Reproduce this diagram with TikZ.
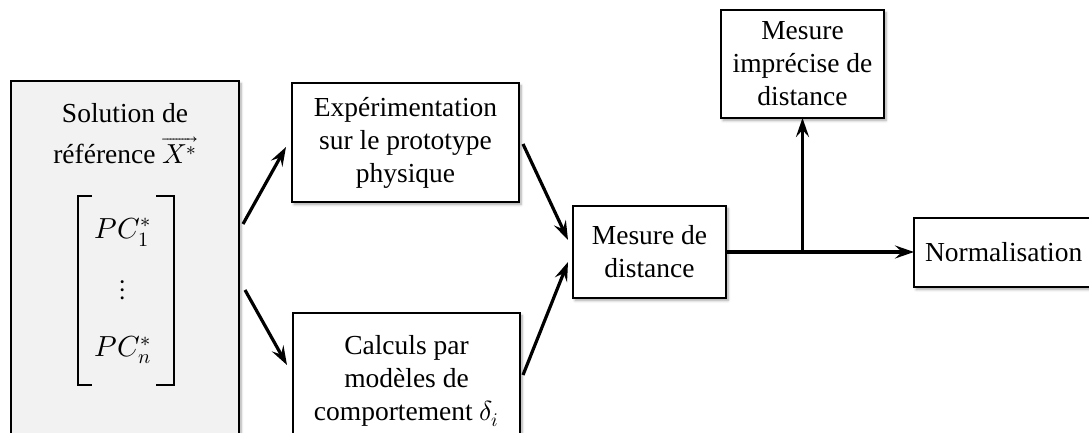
\documentclass[tikz,border=0pt]{standalone}
\usepackage{fontspec}
\usepackage{unicode-math}
\setmainfont{Liberation Serif}
\setmathfont{Latin Modern Math}
\usetikzlibrary{arrows.meta,calc,shadows.blur}

\tikzset{
  box/.style={draw=black, line width=1.6pt, fill=white, inner sep=0pt, outer sep=0pt,
    align=center, font=\fontsize{27.5}{33}\selectfont,
    blur shadow={shadow xshift=2pt, shadow yshift=-2.5pt, shadow blur radius=2.5pt,
      shadow blur steps=6, shadow opacity=35}},
  lbl/.style={inner sep=0pt, align=center, font=\fontsize{27.5}{33}\selectfont},
  arr/.style={line width=3.2pt, -{Stealth[length=19pt, width=13pt, inset=7pt]}},
  brk/.style={line width=2.5pt, line cap=butt},
}

\begin{document}
\begin{tikzpicture}[x=1pt, y=-1pt]
\useasboundingbox (0,0) rectangle (1089,433);

% reference solution panel
\node[box, fill=black!5, minimum width=228, minimum height=370] (ref) at (125,266) {};
\node[lbl, anchor=base] (sol1) at (125,123) {Solution de};
\node[lbl, anchor=base] (sol2) at (125,163) {référence $\overrightarrow{X^{*}}$};
\node[lbl, font=\fontsize{29}{33}\selectfont] (pc1) at (123,232) {$PC_1^{*}$};
\node[lbl, font=\fontsize{29}{33}\selectfont] (dots) at (123,290) {$\vdots$};
\node[lbl, font=\fontsize{29}{33}\selectfont] (pcn) at (123,350) {$PC_n^{*}$};
\draw[brk] (92,196) -- (78,196) -- (78,385) -- (92,385);
\draw[brk] (156,196) -- (174,196) -- (174,385) -- (156,385);

% process boxes
\node[box, minimum width=227, minimum height=119] (exp) at (405.5,142.5)
  {Expérimentation\\sur le prototype\\physique};
\node[box, minimum width=227, minimum height=136] (calc) at (406.5,381)
  {Calculs par\\modèles de\\comportement $\delta_i$};
\node[box, minimum width=153, minimum height=92] (dist) at (649.5,252)
  {Mesure de\\distance};
\node[box, minimum width=163, minimum height=108] (impr) at (802.5,64)
  {Mesure\\imprécise de\\distance};
\node[box, minimum width=186, minimum height=69, text width=186, align=left] (norm) at (1007,252.5)
  {\hspace*{11pt}Normalisation};

% connectors
\draw[arr] ($(ref.east)+(4,-42)$) -- ($(exp.west)+(-6,4.5)$);
\draw[arr] ($(ref.east)+(6,24)$) -- ($(calc.west)+(-6,-16)$);
\draw[arr] ($(exp.east)+(4,1.5)$) -- ($(dist.west)+(-5,-12)$);
\draw[arr] ($(calc.east)+(3,-6)$) -- ($(dist.west)+(-5,10)$);
\coordinate (j) at (dist.east -| impr.south);
\draw[arr] (dist.east) -- (dist.east -| norm.west);
\draw[arr] (j) -- (impr.south);
\end{tikzpicture}
\end{document}
